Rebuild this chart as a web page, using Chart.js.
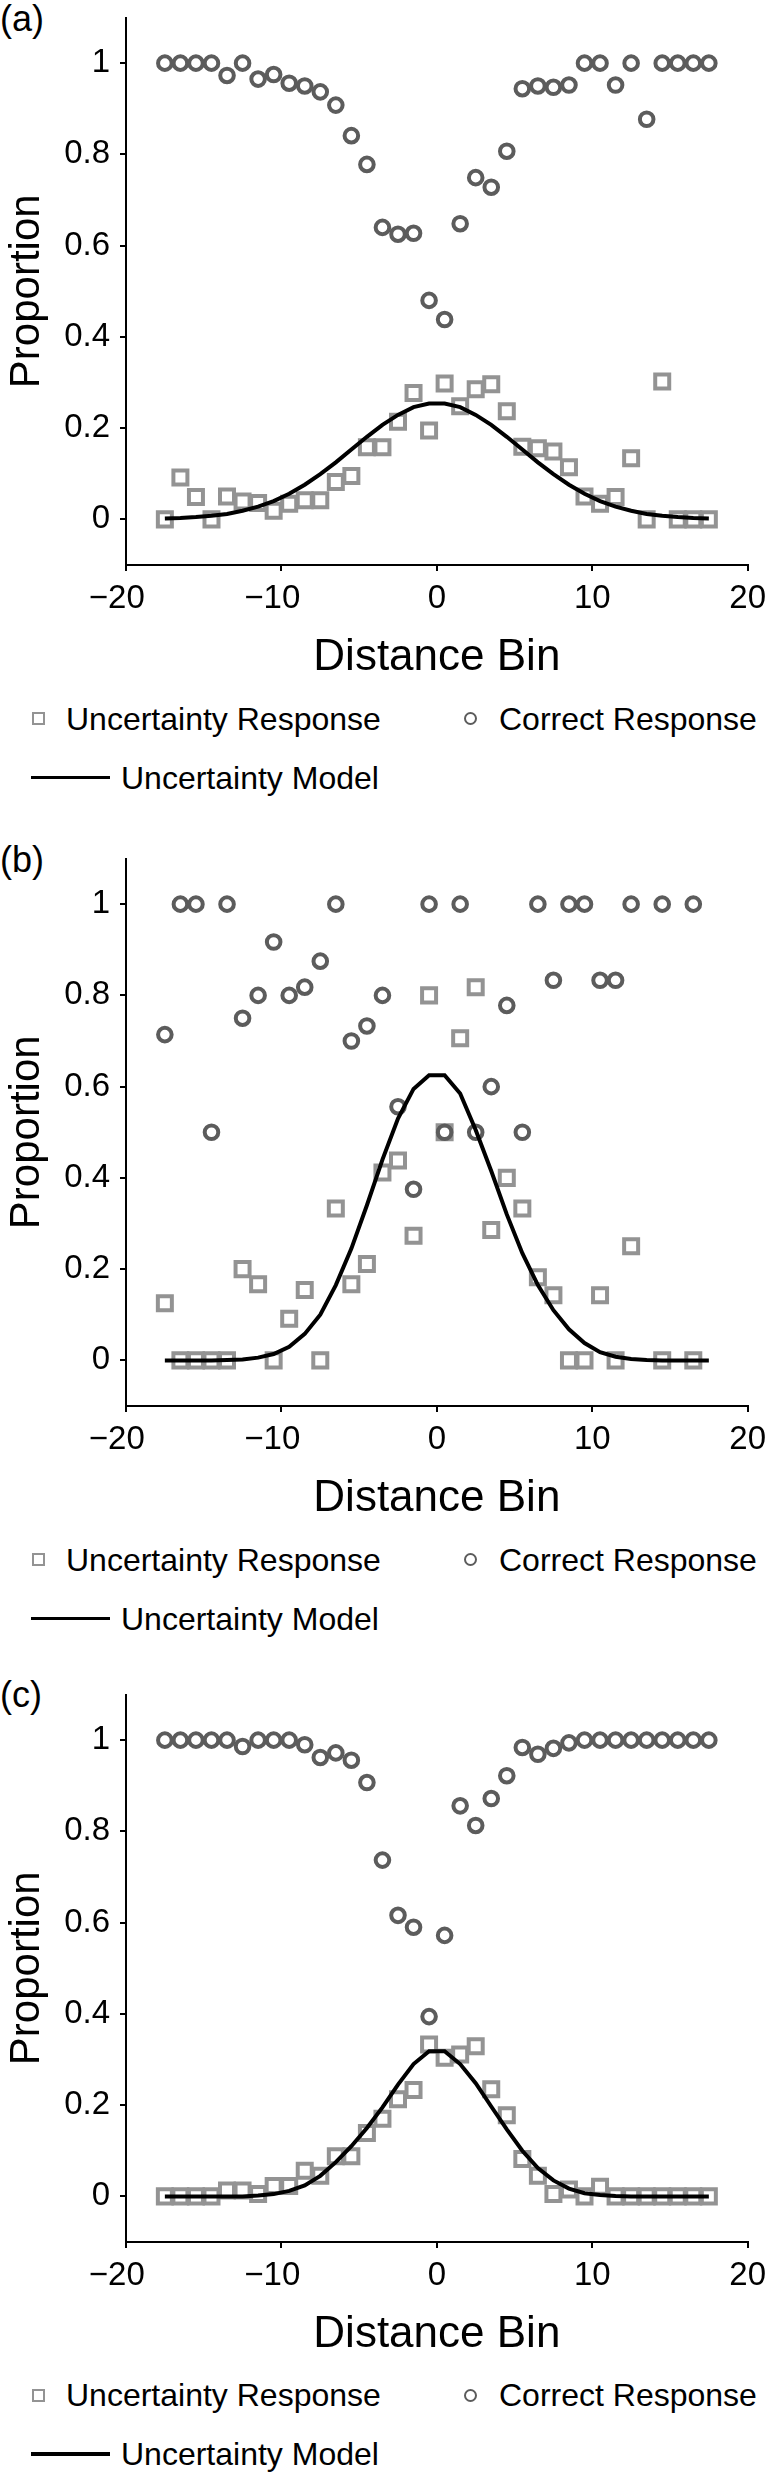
<!DOCTYPE html>
<html>
<head>
<meta charset="utf-8">
<title>Uncertainty and correct responses by distance bin</title>
<script src="https://cdn.jsdelivr.net/npm/chart.js@4.4.1/dist/chart.umd.min.js"></script>
<style>
  body { margin: 0; background: #fff; }
  #page { position: relative; width: 767px; height: 2473px; overflow: hidden;
          font-family: "Liberation Sans", Arial, Helvetica, sans-serif; color: #000; }
  #page canvas { position: absolute; left: 0; }
  .tag { position: absolute; left: 0; font-size: 36px; line-height: 1; }
  .lrow { position: absolute; left: 0; width: 767px; height: 40px; font-size: 32px; line-height: 40px; white-space: nowrap; }
  .lrow span { position: absolute; top: 0; }
  .lrow i { position: absolute; display: block; box-sizing: border-box; }
</style>
</head>
<body>
<div id="page"></div>
<script>
// distance bins (x) shared by all three panels
var bins = [-17.5,-16.5,-15.5,-14.5,-13.5,-12.5,-11.5,-10.5,-9.5,-8.5,-7.5,-6.5,-5.5,-4.5,-3.5,-2.5,-1.5,-0.5,
            0.5,1.5,2.5,3.5,4.5,5.5,6.5,7.5,8.5,9.5,10.5,11.5,12.5,13.5,14.5,15.5,16.5,17.5];
var xTicks = [-20, -10, 0, 10, 20];
var yTicks = [0, 0.2, 0.4, 0.6, 0.8, 1];

// (a)
var correctA = [1,1,1,1,0.973,1,0.965,0.975,0.956,0.95,0.937,0.908,0.841,0.778,0.64,0.625,0.627,0.48,
                0.438,0.648,0.749,0.728,0.807,0.944,0.95,0.947,0.952,1,1,0.952,1,0.877,1,1,1,1];
var uncertA = [0,0.092,0.049,0,0.05,0.039,0.036,0.019,0.034,0.042,0.042,0.082,0.095,0.158,0.158,0.214,0.277,0.195,
               0.298,0.248,0.285,0.296,0.237,0.159,0.156,0.149,0.114,0.05,0.034,0.049,0.134,0,0.302,0,0,0];
var modelA = [0.002,0.003,0.005,0.008,0.012,0.019,0.028,0.040,0.056,0.076,0.099,0.125,0.153,0.181,0.207,0.229,0.246,0.254,
              0.254,0.246,0.229,0.207,0.181,0.153,0.125,0.099,0.076,0.056,0.040,0.028,0.019,0.012,0.008,0.005,0.003,0.002];

// (b)  null = no point in that bin
var correctB = [0.714,1,1,0.5,1,0.75,0.8,0.917,0.8,0.818,0.875,1,0.7,0.733,0.8,0.556,0.375,1,
                0.5,1,0.5,0.6,0.778,0.5,1,0.833,1,1,0.833,0.833,1,null,1,null,1,null];
var uncertB = [0.125,0,0,0,0,0.2,0.167,0,0.091,0.154,0,0.333,0.167,0.211,0.412,0.438,0.273,0.8,
               0.5,0.706,0.818,0.286,0.4,0.333,0.182,0.143,0,0,0.143,0,0.25,null,0,null,0,null];
var modelB = [0,0,0,0,0.001,0.002,0.006,0.014,0.030,0.058,0.100,0.165,0.245,0.340,0.440,0.530,0.595,0.625,
              0.625,0.585,0.505,0.415,0.320,0.235,0.165,0.110,0.068,0.038,0.018,0.008,0.003,0.001,0,0,0,0];

// (c)
var correctC = [1,1,1,1,1,0.986,1,1,1,0.99,0.962,0.972,0.956,0.907,0.737,0.616,0.59,0.394,
                0.572,0.856,0.813,0.872,0.922,0.984,0.969,0.982,0.994,1,1,1,1,1,1,1,1,1];
var uncertC = [0,0,0,0,0.013,0.013,0.005,0.023,0.023,0.056,0.045,0.088,0.088,0.139,0.17,0.213,0.233,0.333,
               0.304,0.311,0.329,0.235,0.178,0.082,0.045,0.005,0.015,0,0.021,0,0,0,0,0,0,0];
var modelC = [0,0,0,0,0,0,0.002,0.005,0.012,0.024,0.045,0.075,0.110,0.150,0.195,0.245,0.290,0.318,
              0.318,0.290,0.248,0.197,0.147,0.100,0.062,0.035,0.017,0.007,0.003,0.001,0,0,0,0,0,0];

var FONT = '"Liberation Sans", Arial, Helvetica, sans-serif';
var SQ_COLOR = '#939393';
var CIRC_COLOR = '#5c5c5c';
var PAD_TOP = 17.5, PLOT_H = 548, X_AXIS_H = 119;

Chart.defaults.font.family = FONT;

var page = document.getElementById('page');

function pts(vals) {
  var out = [];
  for (var i = 0; i < bins.length; i++) {
    if (vals[i] !== null) out.push({ x: bins[i], y: vals[i] });
  }
  return out;
}

function addLegend(y) {
  var r1 = document.createElement('div');
  r1.className = 'lrow';
  r1.style.top = (y - 20) + 'px';
  r1.innerHTML =
    '<i style="left:32px;top:13.5px;width:13px;height:13px;border:2.5px solid ' + SQ_COLOR + '"></i>' +
    '<span style="left:66px">Uncertainty Response</span>' +
    '<i style="left:463.5px;top:13.5px;width:13px;height:13px;border:2.5px solid ' + CIRC_COLOR + ';border-radius:50%"></i>' +
    '<span style="left:499px">Correct Response</span>';
  page.appendChild(r1);

  var r2 = document.createElement('div');
  r2.className = 'lrow';
  r2.style.top = (y + 59 - 20) + 'px';
  r2.innerHTML =
    '<i style="left:31px;top:18px;width:79px;height:3.5px;background:#000"></i>' +
    '<span style="left:121px">Uncertainty Model</span>';
  page.appendChild(r2);
}

function makePanel(tag, plotTop, correct, uncert, model) {
  var lab = document.createElement('div');
  lab.className = 'tag';
  lab.style.top = (plotTop - 17) + 'px';
  lab.textContent = tag;
  page.appendChild(lab);

  var cv = document.createElement('canvas');
  cv.width = 767;
  cv.height = PAD_TOP + PLOT_H + X_AXIS_H;
  cv.style.top = (plotTop - PAD_TOP) + 'px';
  page.appendChild(cv);

  new Chart(cv, {
    type: 'scatter',
    data: {
      datasets: [{
        label: 'Uncertainty Response',
        data: pts(uncert),
        pointStyle: 'rect',
        pointRadius: 9.9,
        pointBorderWidth: 4,
        pointBorderColor: SQ_COLOR,
        pointBackgroundColor: 'rgba(0,0,0,0)',
        order: 3
      }, {
        label: 'Correct Response',
        data: pts(correct),
        pointStyle: 'circle',
        pointRadius: 6.8,
        pointBorderWidth: 4,
        pointBorderColor: CIRC_COLOR,
        pointBackgroundColor: 'rgba(0,0,0,0)',
        order: 2
      }, {
        label: 'Uncertainty Model',
        data: pts(model),
        showLine: true,
        borderColor: '#000',
        borderWidth: 4,
        pointRadius: 0,
        tension: 0,
        order: 1
      }]
    },
    options: {
      responsive: false,
      animation: false,
      events: [],
      layout: { padding: { top: PAD_TOP, right: 19.3, left: 0, bottom: 0 } },
      plugins: { legend: { display: false }, tooltip: { enabled: false } },
      scales: {
        x: {
          type: 'linear',
          min: -20,
          max: 20,
          afterBuildTicks: function (s) { s.ticks = xTicks.map(function (v) { return { value: v }; }); },
          afterFit: function (s) { s.height = X_AXIS_H; s.paddingLeft = 0; s.paddingRight = 0; },
          grid: { drawOnChartArea: false, drawTicks: true, tickLength: 6, color: '#000', lineWidth: 2 },
          border: { display: true, color: '#000', width: 2 },
          ticks: {
            color: '#000',
            font: { size: 33 },
            padding: 8,
            maxRotation: 0,
            callback: function (v) { return v < 0 ? '\u2212' + Math.abs(v) + '\u00a0\u00a0' : String(v); }
          },
          title: { display: true, text: 'Distance Bin', color: '#000', font: { size: 44 }, padding: 0 }
        },
        y: {
          type: 'linear',
          min: -0.1,
          max: 1.1,
          afterBuildTicks: function (s) { s.ticks = yTicks.map(function (v) { return { value: v }; }); },
          afterFit: function (s) { s.width = 126; s.paddingTop = 0; s.paddingBottom = 0; },
          grid: { drawOnChartArea: false, drawTicks: true, tickLength: 6, color: '#000', lineWidth: 2 },
          border: { display: true, color: '#000', width: 2 },
          ticks: {
            color: '#000',
            font: { size: 33 },
            padding: 10,
            callback: function (v) { return (v === 0 || v === 1) ? String(v) : v.toFixed(1); }
          },
          title: { display: true, text: 'Proportion', color: '#000', font: { size: 42 }, padding: { top: 2, bottom: 0 } }
        }
      }
    }
  });

  addLegend(plotTop + PLOT_H + 153);
}

makePanel('(a)', 17.5, correctA, uncertA, modelA);
makePanel('(b)', 858.6, correctB, uncertB, modelB);
makePanel('(c)', 1694, correctC, uncertC, modelC);
</script>
</body>
</html>
